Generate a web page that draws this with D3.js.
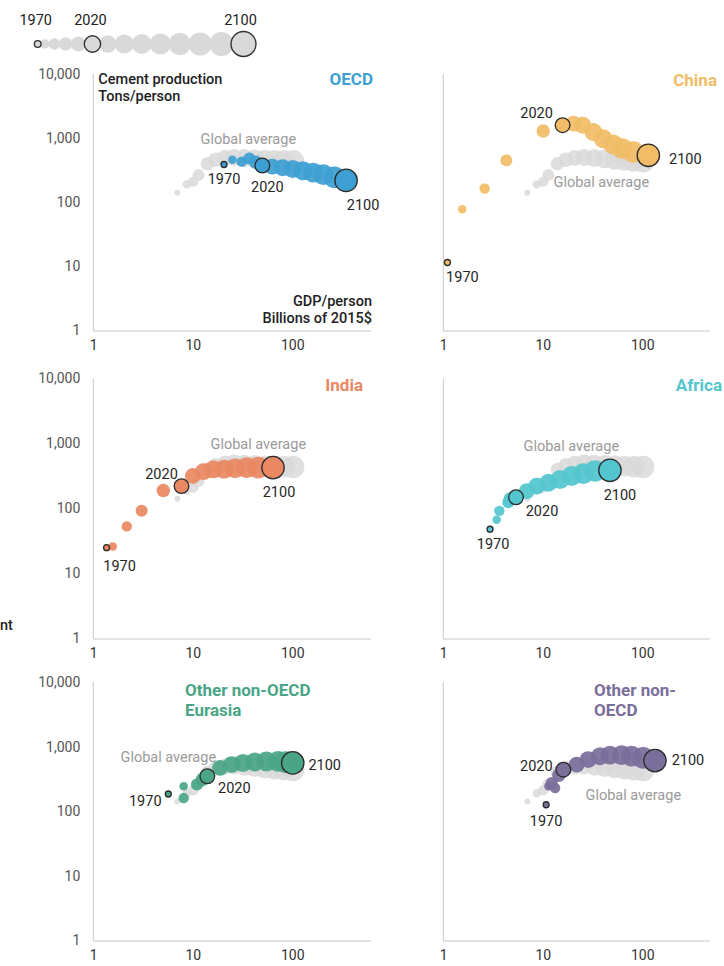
<!DOCTYPE html>
<html>
<head>
<meta charset="utf-8">
<script src="https://cdn.jsdelivr.net/npm/d3@7/dist/d3.min.js"></script>
<style>
  html, body { margin: 0; padding: 0; background: #fff; }
  svg { display: block; font-family: Roboto, "Noto Sans", sans-serif; }
</style>
</head>
<body>
<svg id="chart" width="724" height="966"></svg>
<script>
// ---- data: one point per decade, GDP per person vs cement per person ----
const years = [1970, 1980, 1990, 2000, 2010, 2020, 2030, 2040, 2050, 2060, 2070, 2080, 2090, 2100];
const markedYears = [1970, 2020, 2100];

const globalGdp    = [7.0, 8.7, 10.1, 11.4, 14, 17, 21, 26, 33, 42, 53, 66, 82, 102];
const globalCement = [141, 190, 210, 265, 400, 460, 490, 500, 490, 475, 460, 450, 440, 435];

const oecdGdp    = [20.6, 25, 31, 37, 43, 50, 63, 80, 101, 128, 162, 205, 265, 347];
const oecdCement = [388, 460, 430, 480, 420, 374, 360, 345, 330, 310, 290, 270, 245, 219];

const chinaGdp    = [1.1, 1.55, 2.6, 4.3, 10.1, 15.8, 20.3, 25.2, 32.2, 40.5, 51, 63, 81, 115];
const chinaCement = [11.5, 78, 164, 450, 1290, 1590, 1680, 1590, 1245, 975, 795, 687, 608, 540];

const indiaGdp    = [1.36, 1.57, 2.17, 3.06, 5.05, 7.7, 10, 12.8, 16.1, 20.6, 26.5, 34.8, 45.5, 64];
const indiaCement = [25, 26, 53, 92, 189, 221, 316, 369, 401, 401, 415, 426, 426, 426];

const africaGdp    = [2.95, 3.44, 3.66, 4.5, 4.7, 5.38, 6.9, 8.7, 11.4, 14.9, 19.5, 25.5, 33.5, 47.3];
const africaCement = [48, 67, 92, 125, 140, 149, 185, 221, 249, 280, 316, 343, 378, 387];

const eurasiaGdp    = [5.67, 8.1, 8.1, 11, 12.5, 14, 18.8, 24.6, 32, 42, 55, 72, 86, 101];
const eurasiaCement = [185, 243, 160, 260, 310, 348, 470, 527, 560, 580, 590, 590, 575, 560];

const otherGdp    = [10.8, 11.4, 13.3, 12.3, 14.5, 16.1, 21.9, 28.6, 37.6, 47.3, 62, 78, 102, 134];
const otherCement = [126, 243, 229, 274, 360, 440, 527, 630, 711, 738, 738, 711, 670, 608];

const xTickValues = [1, 10, 100];
const yTickValues = [1, 10, 100, 1000, 10000];

// ---- layout ----
const svg = d3.select("#chart");
const GREY = "#d9d9d9";
const decadeX = 99.5;

const colLeft  = { x0: 93.3,  x1: 371 };
const colRight = { x0: 443.3, x1: 710 };
const rows = [
  { top: 74,    bottom: 330.5 },
  { top: 378.5, bottom: 638.5 },
  { top: 682,   bottom: 940.5 }
];

const zip = (gdp, cem) => years.map((y, i) => ({ year: y, gdp: gdp[i], cement: cem[i] }));
const globalSeries = zip(globalGdp, globalCement);

const panels = [
  { name: ["OECD"], color: "#3d9fd3", data: zip(oecdGdp, oecdCement), col: colLeft, row: rows[0],
    title: { x: 373, y: 85, anchor: "end" }, yTickLabels: true, axisNotes: true,
    yearLabels: { 1970: [0, 14], 2020: [5, 21], 2100: [17, 25] }, globalLabel: [155, 64.5] },
  { name: ["China"], color: "#f1bc65", data: zip(chinaGdp, chinaCement), col: colRight, row: rows[0],
    title: { x: 717, y: 86, anchor: "end" }, yTickLabels: false,
    yearLabels: { 1970: [15, 14], 2020: [-26, -12], 2100: [37, 4] }, globalLabel: [158, 107.5] },
  { name: ["India"], color: "#e98862", data: zip(indiaGdp, indiaCement), col: colLeft, row: rows[1],
    title: { x: 363, y: 391, anchor: "end" }, yTickLabels: true,
    yearLabels: { 1970: [13, 18], 2020: [-20, -12], 2100: [6, 24] }, globalLabel: [165, 65.5] },
  { name: ["Africa"], color: "#52c5ce", data: zip(africaGdp, africaCement), col: colRight, row: rows[1],
    title: { x: 722, y: 391, anchor: "end" }, yTickLabels: false,
    yearLabels: { 1970: [3, 15], 2020: [26, 14], 2100: [10, 25] }, globalLabel: [128, 67.5] },
  { name: ["Other non-OECD", "Eurasia"], color: "#4aa586", data: zip(eurasiaGdp, eurasiaCement), col: colLeft, row: rows[2],
    title: { x: 185, y: 696, anchor: "start" }, yTickLabels: true,
    yearLabels: { 1970: [-23, 7], 2020: [27, 12], 2100: [32, 2] }, globalLabel: [75, 74.5] },
  { name: ["Other non-", "OECD"], color: "#7a6e9a", data: zip(otherGdp, otherCement), col: colRight, row: rows[2],
    title: { x: 594, y: 696, anchor: "start" }, yTickLabels: false,
    yearLabels: { 1970: [0, 16], 2020: [-27, -4], 2100: [33, -1] }, globalLabel: [190, 112.5] }
];

const rPanel = d3.scaleSqrt().domain([0, 140]).range([0, 11.2]);
const rLegend = d3.scaleSqrt().domain([0, 140]).range([0, 12.5]);

// ---- size legend along the top ----
const legend = svg.append("g");
let lx = 37.7;
const legendPts = years.map((yr, i) => {
  if (i > 0) lx += 0.9 * (rLegend(years[i - 1] - 1960) + rLegend(yr - 1960));
  return { year: yr, x: lx, r: rLegend(yr - 1960) };
});
legend.selectAll("circle").data(legendPts).join("circle")
  .attr("cx", d => d.x).attr("cy", 44).attr("r", d => d.r)
  .attr("fill", GREY)
  .attr("stroke", d => markedYears.includes(d.year) ? "#333" : "none")
  .attr("stroke-width", 1.4);
legend.selectAll("circle").filter(d => markedYears.includes(d.year)).raise();
legend.selectAll("text").data(legendPts.filter(d => markedYears.includes(d.year))).join("text")
  .attr("x", d => d.year === 2100 ? d.x - 3 : d.x - 2).attr("y", 25)
  .attr("text-anchor", "middle").attr("font-size", 14.5).attr("fill", "#222")
  .text(d => d.year);

// fragment of a side note at the left edge
svg.append("text").attr("x", 0).attr("y", 630).attr("font-size", 14.5)
  .attr("font-weight", 500).attr("fill", "#222").text("nt");

// ---- panels ----
panels.forEach(p => {
  const g = svg.append("g");
  const x = d3.scaleLog().domain([1, 1000]).range([p.col.x0, p.col.x0 + 3 * decadeX]);
  const y = d3.scaleLog().domain([1, 10000]).range([p.row.bottom, p.row.top]);

  // axis lines
  g.append("line").attr("x1", p.col.x0).attr("x2", p.col.x0)
    .attr("y1", p.row.top).attr("y2", p.row.bottom + 0.5)
    .attr("stroke", "#c8c8c8").attr("stroke-width", 1);
  g.append("line").attr("x1", p.col.x0).attr("x2", p.col.x1)
    .attr("y1", p.row.bottom + 0.5).attr("y2", p.row.bottom + 0.5)
    .attr("stroke", "#c8c8c8").attr("stroke-width", 1);

  // x axis labels
  const xAxis = d3.axisBottom(x).tickValues(xTickValues).tickSize(0).tickPadding(0)
    .tickFormat(d3.format(","));
  const xa = g.append("g").attr("transform", `translate(0,${p.row.bottom + 10})`).call(xAxis);
  xa.select(".domain").remove();
  xa.selectAll("text").attr("font-size", 14).attr("fill", "#333")
    .attr("font-family", "Roboto, sans-serif").attr("dy", "0.71em");

  // y axis labels (left column only)
  if (p.yTickLabels) {
    const yAxis = d3.axisLeft(y).tickValues(yTickValues).tickSize(0).tickPadding(0)
      .tickFormat(d3.format(","));
    const ya = g.append("g").attr("transform", `translate(${p.col.x0 - 13},0)`).call(yAxis);
    ya.select(".domain").remove();
    ya.selectAll("text").attr("font-size", 14).attr("fill", "#555")
      .attr("font-family", "Roboto, sans-serif");
  }

  // global average path
  g.append("g").selectAll("circle").data(globalSeries).join("circle")
    .attr("cx", d => x(d.gdp)).attr("cy", d => y(d.cement)).attr("r", d => rPanel(d.year - 1960))
    .attr("fill", GREY).attr("fill-opacity", 0.85);

  // region path
  const rg = g.append("g");
  rg.selectAll("circle").data(p.data).join("circle")
    .attr("cx", d => x(d.gdp)).attr("cy", d => y(d.cement)).attr("r", d => rPanel(d.year - 1960))
    .attr("fill", p.color).attr("fill-opacity", 0.92)
    .attr("stroke", d => markedYears.includes(d.year) ? "#2b2b2b" : "none")
    .attr("stroke-width", 1.3);
  rg.selectAll("circle").filter(d => markedYears.includes(d.year)).raise()
    .attr("fill-opacity", 1);

  // year labels
  g.append("g").selectAll("text").data(p.data.filter(d => markedYears.includes(d.year))).join("text")
    .attr("x", d => x(d.gdp) + p.yearLabels[d.year][0])
    .attr("y", d => y(d.cement) + p.yearLabels[d.year][1])
    .attr("dy", "0.35em").attr("text-anchor", "middle")
    .attr("font-size", 14.5).attr("fill", "#262626").text(d => d.year);

  // global average label
  g.append("text").attr("x", p.col.x0 + p.globalLabel[0]).attr("y", p.row.top + p.globalLabel[1])
    .attr("dy", "0.35em").attr("text-anchor", "middle")
    .attr("font-size", 14.5).attr("fill", "#9a9a9a").text("Global average");

  // region title
  const t = g.append("text").attr("text-anchor", p.title.anchor)
    .attr("font-size", 17).attr("font-weight", 700).attr("fill", p.color);
  p.name.forEach((line, i) => {
    t.append("tspan").attr("x", p.title.x).attr("y", p.title.y + i * 20).text(line);
  });

  // axis notes
  if (p.axisNotes) {
    const n = g.append("g").attr("font-size", 14.5).attr("font-weight", 500).attr("fill", "#1e1e1e");
    n.append("text").attr("x", p.col.x0 + 5).attr("y", 83.5).text("Cement production");
    n.append("text").attr("x", p.col.x0 + 5).attr("y", 101).text("Tons/person");
    n.append("text").attr("x", p.col.x1 + 1).attr("y", 306).attr("text-anchor", "end")
      .text("GDP/person");
    n.append("text").attr("x", p.col.x1 + 1).attr("y", 323).attr("text-anchor", "end")
      .text("Billions of 2015$");
  }
});
</script>
</body>
</html>
